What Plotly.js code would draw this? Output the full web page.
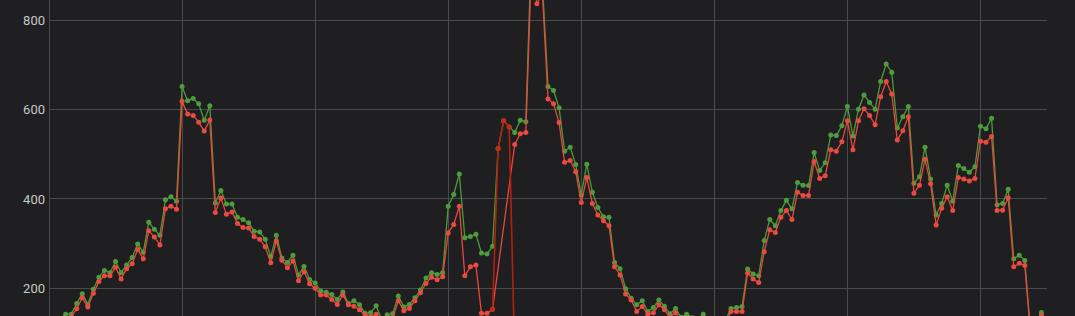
<!DOCTYPE html>
<html>
<head>
<meta charset="utf-8">
<script src="https://cdn.plot.ly/plotly-3.0.1.min.js"></script>
<style>
  html, body { margin: 0; padding: 0; background: #1f1f21; overflow: hidden; }
  #chart { width: 1075px; height: 316px; }
</style>
</head>
<body>
<div id="chart"></div>
<script>
// hourly index (0..179), gridlines every 24 hours
const hours = Array.from({length: 180}, (_, i) => i);

const greenSeries = [
  110, 118, 128, 142, 142, 166, 188, 164, 198, 225,
  240, 235, 260, 235, 252, 269, 299, 281, 348, 332,
  319, 398, 405, 395, 652, 620, 625, 613, 576, 609,
  391, 419, 389, 389, 359, 354, 347, 328, 326, 310,
  271, 319, 268, 258, 274, 230, 249, 220, 212, 194,
  191, 186, 175, 192, 166, 172, 163, 144, 145, 161,
  130, 141, 143, 183, 158, 164, 179, 196, 223, 235,
  231, 235, 384, 410, 456, 313, 316, 321, 279, 277,
  294, 513, 575, 561, 549, 576, 573, 960, 930, 880,
  652, 643, 604, 507, 516, 477, 409, 478, 415, 381,
  360, 359, 258, 244, 199, 178, 163, 172, 148, 157,
  174, 160, 143, 155, 135, 142, 134, 128, 142, 122,
  115, 120, 128, 155, 157, 159, 243, 232, 228, 307,
  354, 340, 374, 397, 378, 437, 431, 430, 504, 464,
  481, 543, 542, 564, 607, 541, 601, 633, 616, 601,
  663, 702, 684, 559, 584, 607, 435, 450, 516, 445,
  364, 390, 431, 395, 475, 468, 460, 472, 563, 557,
  581, 387, 390, 422, 266, 274, 262, 107, 100, 146
];

const redSeries = [
  100, 108, 118, 132, 136, 154, 179, 158, 189, 215,
  228, 228, 247, 221, 244, 255, 287, 266, 329, 315,
  297, 378, 384, 377, 619, 590, 587, 572, 552, 577,
  370, 402, 366, 371, 345, 336, 335, 316, 310, 293,
  257, 306, 263, 246, 261, 217, 237, 210, 200, 185,
  185, 175, 164, 185, 163, 160, 152, 141, 136, 142,
  124, 132, 134, 172, 150, 155, 172, 190, 211, 225,
  219, 226, 324, 343, 384, 228, 248, 252, 144, 144,
  153, null, null, null, 522, 546, 549, 920, 837, 860,
  624, 613, 571, 482, 486, 461, 392, 448, 390, 364,
  351, 340, 248, 230, 187, 174, 148, 159, 142, 145,
  163, 152, 135, 145, 128, 133, 126, 120, 132, 113,
  108, 112, 120, 148, 148, 148, 234, 221, 213, 282,
  331, 325, 359, 374, 354, 415, 408, 408, 484, 446,
  452, 510, 507, 528, 575, 510, 575, 602, 587, 566,
  629, 663, 635, 532, 553, 584, 413, 431, 489, 434,
  342, 379, 405, 374, 448, 445, 440, 446, 529, 527,
  540, 374, 375, 403, 248, 256, 251, 100, 95, 139
];

// separate dark-red segment
const darkHours = [80, 81, 82, 83, 84];
const darkSeries = [153, 513, 575, 561, 40];

const yTicks = [200, 400, 600, 800];
const yTickLabels = ['200', '400', '600', '800'];

const traces = [
  {
    x: hours, y: greenSeries, type: 'scatter', mode: 'lines+markers',
    line: {color: '#4b9a3a', width: 1.3},
    marker: {color: '#4f9c3e', size: 5},
    hoverinfo: 'skip'
  },
  {
    x: hours, y: redSeries, type: 'scatter', mode: 'lines+markers',
    connectgaps: true,
    line: {color: '#e8473d', width: 1.3},
    marker: {color: '#ea4a40', size: 5},
    hoverinfo: 'skip'
  },
  {
    x: darkHours, y: darkSeries, type: 'scatter', mode: 'lines+markers',
    line: {color: '#b3200c', width: 1.6},
    marker: {color: '#c42a12', size: 5},
    hoverinfo: 'skip'
  }
];

const layout = {
  width: 1075, height: 316,
  margin: {l: 49, r: 28, t: 0, b: 0, pad: 0},
  paper_bgcolor: '#1f1f21',
  plot_bgcolor: '#1f1f21',
  showlegend: false,
  xaxis: {
    range: [0, 180],
    tick0: 0, dtick: 24,
    showgrid: true, gridcolor: '#4a4a4c', gridwidth: 1,
    zeroline: true, zerolinecolor: '#4a4a4c', zerolinewidth: 1,
    showticklabels: false, showline: false, ticks: ''
  },
  yaxis: {
    range: [138, 845.5],
    tickmode: 'array', tickvals: yTicks, ticktext: yTickLabels,
    showgrid: true, gridcolor: '#4a4a4c', gridwidth: 1,
    zeroline: false, showline: false, ticks: '',
    ticklabelstandoff: 3,
    tickfont: {family: 'Roboto, "Open Sans", sans-serif', size: 13, color: '#c8c8c8'}
  }
};

Plotly.newPlot('chart', traces, layout, {staticPlot: true, displayModeBar: false});
</script>
</body>
</html>
